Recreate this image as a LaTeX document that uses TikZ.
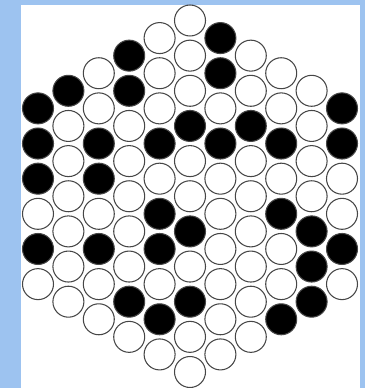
\documentclass[tikz,border=0pt]{standalone}
\usepackage{tikz}
\usetikzlibrary{calc}

\definecolor{frameblue}{RGB}{157,195,240}
\colorlet{B}{black}
\colorlet{W}{white}

\tikzset{
    stone/.style={circle, draw=gray!55!black, line width=0.6pt,
        fill=#1, minimum size=0.62cm, inner sep=0pt}
}

\begin{document}
\begin{tikzpicture}[x=0.02cm, y=-0.02cm]

% Frame and board
\fill[frameblue] (0,0) rectangle (365,388);
\fill[white] (21,5) rectangle (360,388);
\useasboundingbox (0,0) rectangle (365,388);

% Stones, column by column (left to right, top to bottom)
\foreach \k/\cells in {
    0/{B,B,B,W,B,W},
    1/{B,W,W,W,W,W,W},
    2/{W,W,B,B,W,B,W,W},
    3/{B,B,W,W,W,W,W,B,W},
    4/{W,W,W,B,W,B,B,W,B,W},
    5/{W,W,W,B,W,W,B,W,B,W,W},
    6/{B,B,W,B,W,W,W,W,W,W},
    7/{W,W,B,W,W,W,W,W,W},
    8/{W,W,B,W,B,W,W,B},
    9/{W,W,W,W,B,B,B},
    10/{B,B,W,W,B,W}}
{
    \foreach \c [count=\r from 0] in \cells {
        \pgfmathsetmacro\x{38+30.4*\k}
        \pgfmathsetmacro\y{20.5+17.575*abs(\k-5)+35.15*\r}
        \node[stone=\c] (s-\k-\r) at (\x,\y) {};
    }
}

\end{tikzpicture}
\end{document}
